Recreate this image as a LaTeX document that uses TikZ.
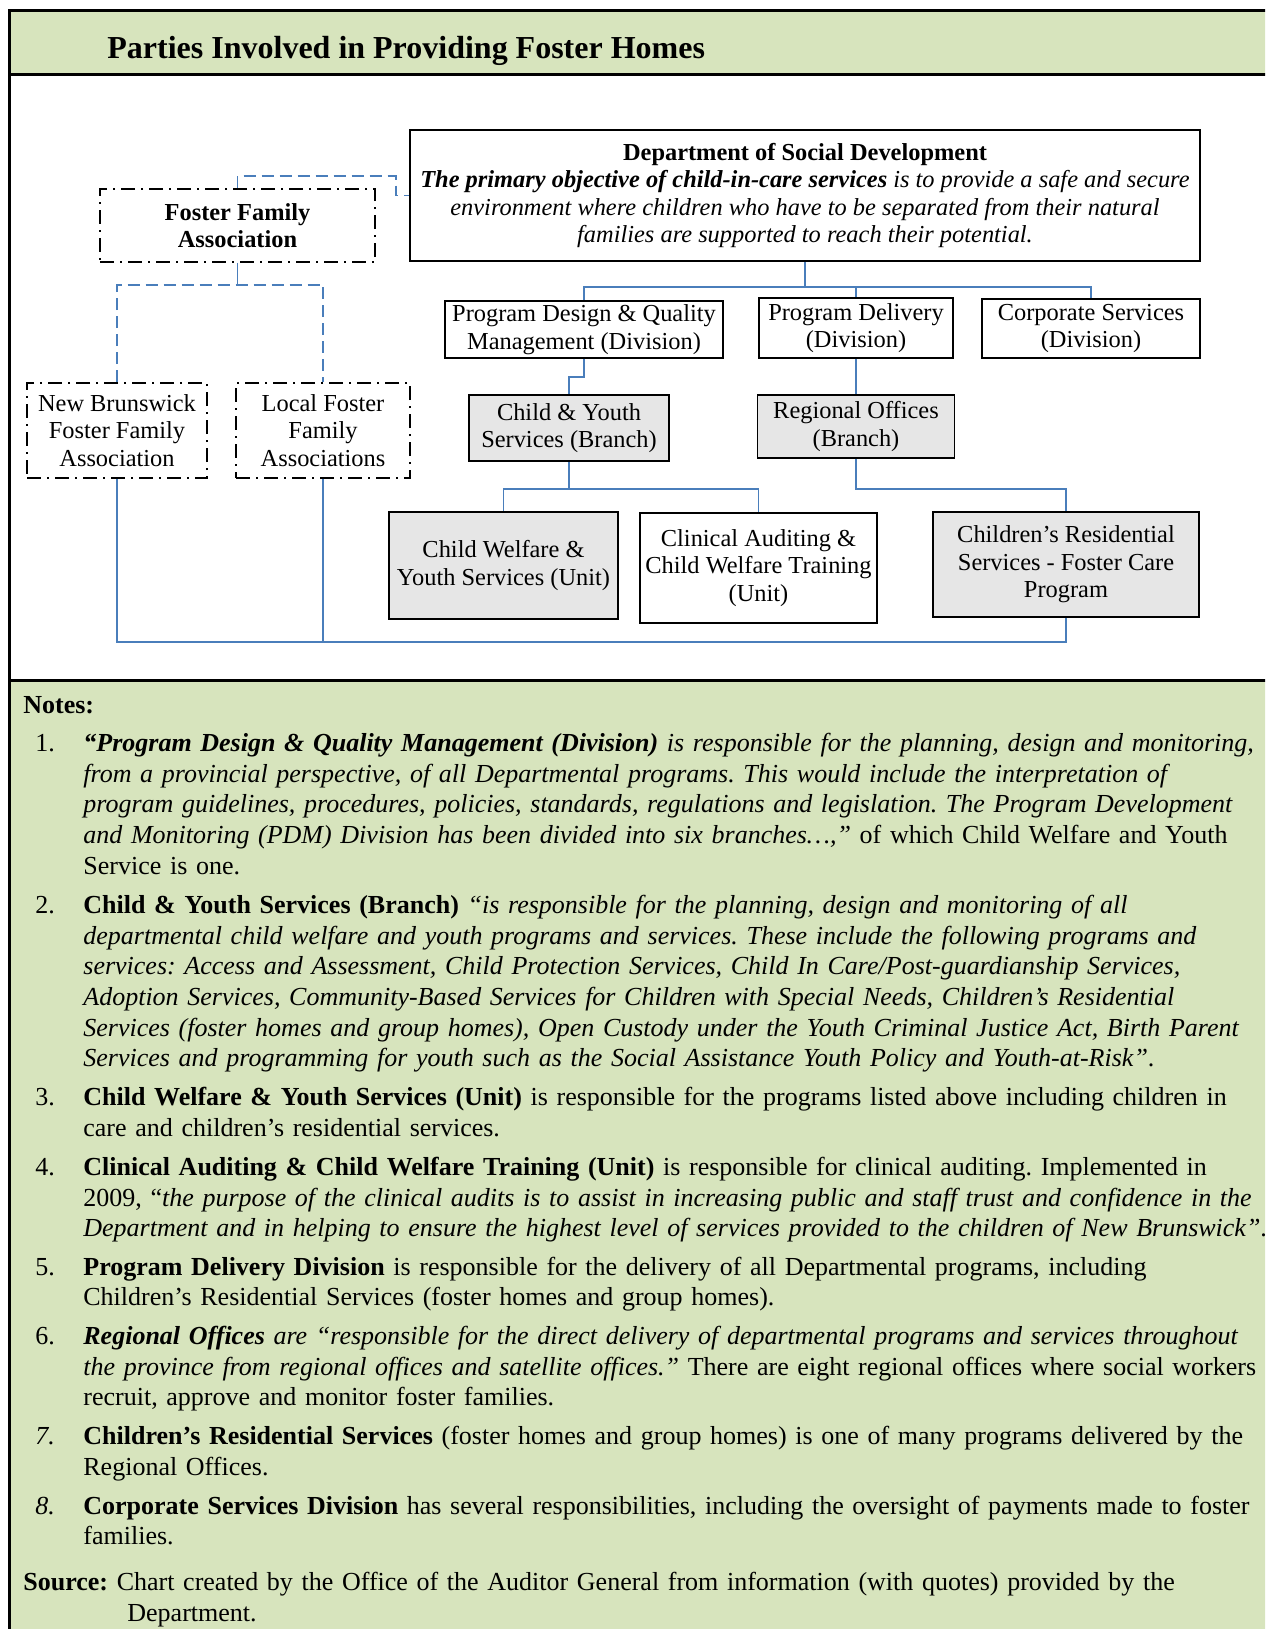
\documentclass[tikz,border=0pt]{standalone}
\usepackage{fontspec}
\setmainfont{Liberation Serif}
\frenchspacing
\definecolor{notegreen}{HTML}{D7E4BD}
\definecolor{boxgrey}{HTML}{E6E6E6}
\definecolor{linkblue}{HTML}{4A7EBB}
\newcommand{\boxfont}{\fontsize{12.2pt}{13.7pt}\selectfont}
\newcommand{\notefont}{\fontsize{13pt}{15.3pt}\selectfont}
\newcommand{\notenum}[1]{\llap{\makebox[24pt][l]{#1}}}

\begin{document}
\begin{tikzpicture}[x=0.5pt,y=-0.5pt,
  orgbox/.style={draw=black,line width=0.8pt,fill=white,inner sep=0pt,align=center,font=\boxfont},
  greybox/.style={orgbox,fill=boxgrey},
  assocbox/.style={orgbox,dash pattern=on 7pt off 3pt on 1pt off 3pt},
  link/.style={draw=linkblue,line width=0.8pt},
  dashlink/.style={link,dash pattern=on 6pt off 3pt},
  notetext/.style={anchor=base west,inner sep=0pt,text width=610pt,align=left,font=\notefont}]
\clip (0,0) rectangle (1265,1629);

% frame and green bands
\fill[notegreen] (9.5,10.5) rectangle (1270,74.5);
\fill[notegreen] (9.5,680.5) rectangle (1270,1640);
\draw[line width=1.6pt] (1270,10.5) -- (9.5,10.5) -- (9.5,1640);
\draw[line width=1.6pt] (9.5,74.5) -- (1270,74.5);
\draw[line width=1.6pt] (9.5,680.5) -- (1270,680.5);

\node[anchor=base west,inner sep=0pt,font=\fontsize{16pt}{19pt}\selectfont\bfseries] (title) at (107,58)
  {Parties Involved in Providing Foster Homes};

% chart
\node[orgbox,minimum width=395pt,minimum height=65.5pt] (dept) at (805,195.5)
  {\textbf{Department of Social Development}\\
   \textbf{\textit{The primary objective of child-in-care services}} \textit{is to provide a safe and secure}\\
   \textit{environment where children who have to be separated from their natural}\\
   \textit{families are supported to reach their potential.}};
\node[assocbox,minimum width=137.5pt,minimum height=36.5pt] (ffa) at (237.5,225.5)
  {\textbf{Foster Family}\\\textbf{Association}};
\node[orgbox,minimum width=139pt,minimum height=28.5pt] (pdqm) at (584,329.5)
  {Program Design \& Quality\\Management (Division)};
\node[orgbox,minimum width=97pt,minimum height=30pt] (pd) at (856,328)
  {Program Delivery\\(Division)};
\node[orgbox,minimum width=109pt,minimum height=29.5pt] (corp) at (1091,328.5)
  {Corporate Services\\(Division)};
\node[greybox,minimum width=100pt,minimum height=33pt] (cys) at (569,428)
  {Child \& Youth\\Services (Branch)};
\node[greybox,minimum width=98.5pt,minimum height=31.5pt] (ro) at (856,426.5)
  {Regional Offices\\(Branch)};
\node[assocbox,minimum width=90pt,minimum height=47.5pt] (nbffa) at (117,430.5)
  {New Brunswick\\Foster Family\\Association};
\node[assocbox,minimum width=87pt,minimum height=47.5pt] (lffa) at (323,430.5)
  {Local Foster\\Family\\Associations};
\node[greybox,minimum width=114.5pt,minimum height=53.5pt] (cwys) at (503.5,565.5)
  {Child Welfare \&\\Youth Services (Unit)};
\node[orgbox,minimum width=118.5pt,minimum height=55pt] (clin) at (758.5,568)
  {Clinical Auditing \&\\Child Welfare Training\\(Unit)};
\node[greybox,minimum width=133pt,minimum height=52.5pt] (crs) at (1066,564.5)
  {Children’s Residential\\Services - Foster Care\\Program};

% connectors
\path (dept.south) ++(0,25) coordinate (dept bus);
\draw[link] (dept.south) -- (dept bus) -| (pdqm.north);
\draw[link] (dept bus) -| (pd.north);
\draw[link] (dept bus) -| (corp.north);
\draw[link] (pdqm.south) -- ++(0,18) -| (cys.north);
\draw[link] (pd.south) -- (ro.north);
\path (cys.south) ++(0,27) coordinate (cys bus);
\draw[link] (cys.south) -- (cys bus) -| (cwys.north);
\draw[link] (cys bus) -| (clin.north);
\draw[link] (ro.south) -- ++(0,30) -| (crs.north);
\path (crs.south) ++(0,24) coordinate (crs bus);
\draw[link] (crs.south) -- (crs bus) -| (nbffa.south);
\draw[link] (lffa.south) -- (lffa.south |- crs bus);
\draw[dashlink] (ffa.north) -- ++(0,-12) -| ([xshift=-6.5pt]dept.west) -- (dept.west);
\path (ffa.south) ++(0,22) coordinate (ffa bus);
\draw[link] (ffa.south) -- (ffa bus);
\draw[dashlink] (nbffa.north) |- (ffa bus) -| (lffa.north);

% notes
\node[notetext] (notes) at (23,713.5) {\textbf{Notes:}};
\node[notetext] (n1) at (83,751.6) {\notenum{1.}\textbf{\textit{“Program Design \& Quality Management (Division)}} \textit{is responsible for the planning, design and monitoring,}\\
\textit{from a provincial perspective, of all Departmental programs. This would include the interpretation of}\\
\textit{program guidelines, procedures, policies, standards, regulations and legislation. The Program Development}\\
\textit{and Monitoring (PDM) Division has been divided into six branches…,”} of which Child Welfare and Youth\\
Service is one.};
\node[notetext] (n2) at (83,913.7) {\notenum{2.}\textbf{Child \& Youth Services (Branch)} \textit{“is responsible for the planning, design and monitoring of all}\\
\textit{departmental child welfare and youth programs and services. These include the following programs and}\\
\textit{services: Access and Assessment, Child Protection Services, Child In Care/Post-guardianship Services,}\\
\textit{Adoption Services, Community-Based Services for Children with Special Needs, Children’s Residential}\\
\textit{Services (foster homes and group homes), Open Custody under the Youth Criminal Justice Act, Birth Parent}\\
\textit{Services and programming for youth such as the Social Assistance Youth Policy and Youth-at-Risk”}.};
\node[notetext] (n3) at (83,1105.8) {\notenum{3.}\textbf{Child Welfare \& Youth Services (Unit)} is responsible for the programs listed above including children in\\
care and children’s residential services.};
\node[notetext] (n4) at (83,1175.4) {\notenum{4.}\textbf{Clinical Auditing \& Child Welfare Training (Unit)} is responsible for clinical auditing. Implemented in\\
2009, “\textit{the purpose of the clinical audits is to assist in increasing public and staff trust and confidence in the}\\
\textit{Department and in helping to ensure the highest level of services provided to the children of New Brunswick”}.};
\node[notetext] (n5) at (83,1275.1) {\notenum{5.}\textbf{Program Delivery Division} is responsible for the delivery of all Departmental programs, including\\
Children’s Residential Services (foster homes and group homes).};
\node[notetext] (n6) at (83,1344.7) {\notenum{6.}\textbf{\textit{Regional Offices}} \textit{are “responsible for the direct delivery of departmental programs and services throughout}\\
\textit{the province from regional offices and satellite offices.”} There are eight regional offices where social workers\\
recruit, approve and monitor foster families.};
\node[notetext] (n7) at (83,1444.4) {\notenum{\textit{7.}}\textbf{Children’s Residential Services} (foster homes and group homes) is one of many programs delivered by the\\
Regional Offices.};
\node[notetext] (n8) at (83,1514) {\notenum{\textit{8.}}\textbf{Corporate Services Division} has several responsibilities, including the oversight of payments made to foster\\
families.};
\node[notetext] (source) at (23,1590.8) {\textbf{Source:} Chart created by the Office of the Auditor General from information (with quotes) provided by the\\
\hspace*{52pt}Department.};
\end{tikzpicture}
\end{document}
